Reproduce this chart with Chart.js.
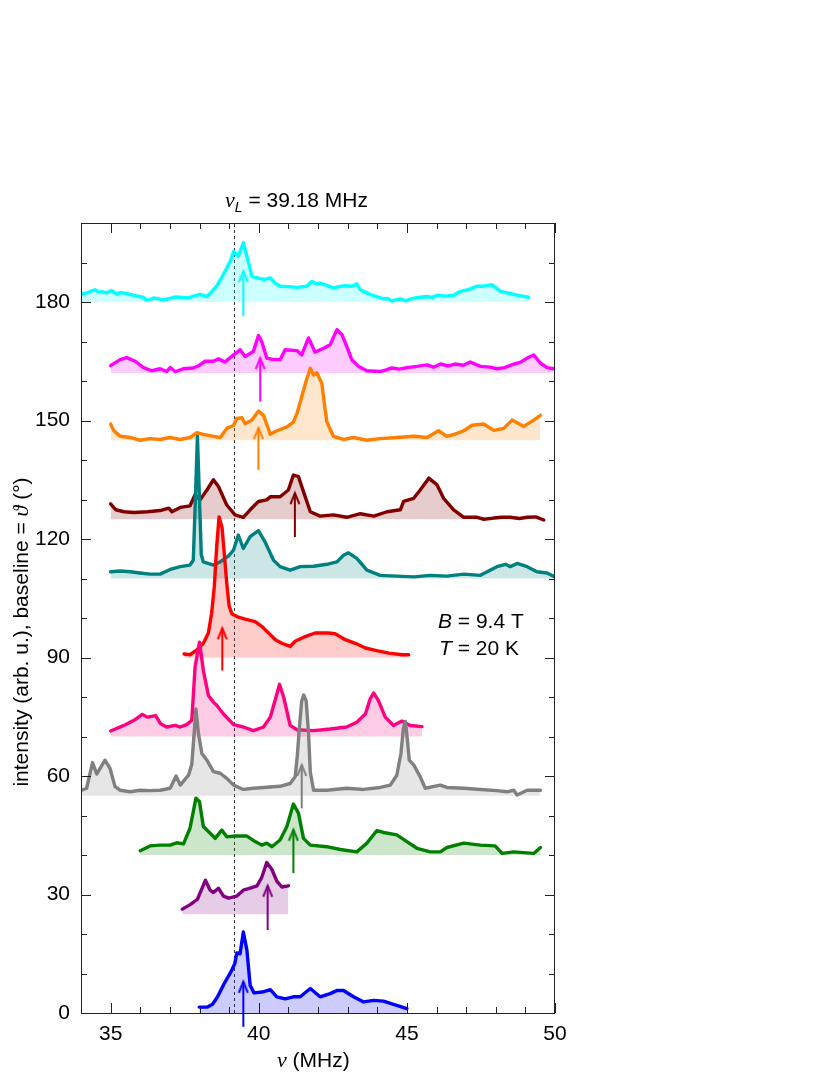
<!DOCTYPE html>
<html>
<head>
<meta charset="utf-8">
<script src="https://cdn.jsdelivr.net/npm/chart.js@4.4.1/dist/chart.umd.min.js"></script>
<style>
  html, body { margin: 0; padding: 0; background: #fff; }
  #wrap { width: 830px; height: 1075px; position: relative; }
</style>
</head>
<body>
<div id="wrap"><canvas id="nmrChart"></canvas></div>
<script>
// spectra: [frequency MHz, intensity above baseline]
const cyanSpec = [[34.02,2.0],[34.2,2.3],[34.47,3.1],[34.6,2.5],[34.7,2.6],[34.85,2.3],[35.04,2.9],[35.2,2.0],[35.32,2.4],[35.5,2.2],[35.66,1.9],[35.9,1.5],[36.1,1.2],[36.2,0.5],[36.33,0.6],[36.45,1.0],[36.55,0.9],[36.78,0.5],[37.0,0.9],[37.2,1.3],[37.35,1.2],[37.6,1.0],[37.8,1.5],[38.02,1.9],[38.25,1.4],[38.4,2.5],[38.58,4.0],[38.75,6.2],[38.92,8.6],[39.05,10.5],[39.15,12.8],[39.31,11.6],[39.48,15.0],[39.6,11.6],[39.77,6.5],[40.05,5.9],[40.2,5.7],[40.39,6.1],[40.55,4.8],[40.72,4.0],[41.0,3.9],[41.29,3.7],[41.62,4.0],[41.79,5.2],[41.95,4.6],[42.07,4.8],[42.3,4.2],[42.52,3.5],[42.7,3.9],[42.92,4.1],[43.15,4.0],[43.31,4.6],[43.43,3.1],[43.6,2.5],[43.76,1.9],[44.0,1.3],[44.21,0.8],[44.35,0.9],[44.49,0.2],[44.65,0.6],[44.78,0.8],[44.95,0.3],[45.2,0.9],[45.45,1.2],[45.7,1.4],[45.85,1.1],[46.02,1.7],[46.3,1.5],[46.58,1.7],[46.81,2.7],[47.1,3.2],[47.37,4.0],[47.59,4.0],[47.87,4.4],[48.16,2.7],[48.4,2.3],[48.61,1.9],[48.9,1.5],[49.11,1.2]];
const magentaSpec = [[35.0,1.9],[35.32,3.4],[35.54,3.9],[35.83,3.0],[36.11,1.4],[36.39,0.6],[36.67,1.1],[36.89,0.4],[37.01,1.4],[37.18,0.4],[37.46,1.1],[37.79,1.3],[38.0,2.0],[38.19,3.0],[38.47,3.0],[38.64,3.6],[38.86,2.8],[39.15,4.6],[39.37,5.9],[39.54,4.2],[39.82,5.5],[39.99,9.5],[40.10,8.0],[40.27,3.8],[40.50,3.4],[40.72,3.4],[40.89,5.9],[41.29,5.7],[41.45,4.6],[41.68,8.9],[41.90,5.3],[42.19,6.3],[42.41,7.2],[42.64,11.0],[42.81,9.7],[42.97,6.8],[43.14,3.4],[43.37,1.7],[43.65,0.6],[44.10,0.4],[44.3,0.8],[44.49,1.3],[44.75,1.0],[45.0,1.4],[45.34,1.7],[45.68,2.1],[45.9,1.5],[46.13,2.3],[46.4,1.8],[46.63,2.3],[46.9,2.0],[47.14,2.8],[47.48,1.7],[47.8,1.5],[48.04,1.1],[48.3,1.4],[48.61,2.3],[48.85,2.8],[49.06,3.8],[49.28,4.6],[49.51,2.5],[49.73,1.4],[49.96,1.1]];
const orangeSpec = [[35.0,4.1],[35.1,2.5],[35.32,1.0],[35.66,0.7],[35.99,0.0],[36.33,0.4],[36.67,0.2],[37.01,0.7],[37.35,0.2],[37.68,0.7],[37.91,1.9],[38.13,1.5],[38.47,1.0],[38.70,0.7],[38.92,3.0],[39.15,3.8],[39.26,5.5],[39.43,5.7],[39.54,4.2],[39.77,5.1],[39.99,7.4],[40.16,6.3],[40.39,1.5],[40.61,2.4],[40.95,3.4],[41.17,4.6],[41.3,7.0],[41.45,11.0],[41.6,15.0],[41.74,18.2],[41.85,16.5],[41.96,17.1],[42.13,14.4],[42.22,9.0],[42.30,4.6],[42.52,1.0],[42.86,0.2],[43.20,0.7],[43.65,0.0],[44.10,0.4],[44.66,0.7],[45.23,1.0],[45.68,0.7],[46.07,2.4],[46.35,1.0],[46.6,1.5],[46.92,2.4],[47.20,3.8],[47.59,4.1],[47.93,2.5],[48.27,3.0],[48.55,5.1],[48.95,3.5],[49.28,5.1],[49.51,6.3]];
const maroonSpec = [[35.0,3.9],[35.17,2.4],[35.45,1.9],[35.79,1.7],[36.24,1.9],[36.67,2.2],[36.96,2.8],[37.07,1.9],[37.35,3.0],[37.68,3.4],[37.85,6.2],[38.02,4.9],[38.25,7.4],[38.47,10.0],[38.64,8.3],[38.92,3.6],[39.20,1.1],[39.48,0.5],[39.71,2.4],[39.99,4.5],[40.27,4.9],[40.39,5.7],[40.72,5.7],[41.00,7.4],[41.17,11.2],[41.34,10.8],[41.51,7.0],[41.74,1.9],[42.07,0.8],[42.52,1.1],[42.97,0.5],[43.43,1.4],[43.88,0.8],[44.33,1.9],[44.78,2.4],[44.89,4.5],[45.23,5.3],[45.45,7.4],[45.74,10.4],[46.02,8.7],[46.24,5.3],[46.58,2.4],[46.92,0.5],[47.37,0.5],[47.6,0.0],[47.93,0.3],[48.2,0.5],[48.49,0.5],[48.8,0.2],[49.06,0.5],[49.35,0.6],[49.62,-0.2]];
const tealSpec = [[35.0,1.7],[35.32,1.9],[35.66,1.7],[35.99,1.4],[36.33,1.1],[36.67,1.1],[37.01,2.3],[37.35,3.0],[37.68,3.4],[37.79,4.6],[37.86,20],[37.93,36],[38.0,20],[38.06,6],[38.13,4.2],[38.47,3.4],[38.70,4.2],[38.98,5.7],[39.15,7.2],[39.31,11.0],[39.48,7.6],[39.71,10.6],[39.99,12.1],[40.21,9.3],[40.50,4.6],[40.72,3.0],[41.06,2.1],[41.40,3.0],[41.85,3.1],[42.30,3.6],[42.64,4.2],[42.86,5.9],[43.03,6.5],[43.31,5.1],[43.65,2.1],[44.10,0.8],[44.66,0.6],[45.23,0.4],[45.79,0.8],[46.35,0.6],[46.92,1.1],[47.48,0.8],[48.04,3.0],[48.33,3.6],[48.49,3.0],[48.72,3.8],[49.06,3.0],[49.39,1.7],[49.73,1.4],[50.0,0.4]];
const redSpec = [[37.48,0.9],[37.68,0.7],[37.91,1.9],[38.13,3.6],[38.30,6.2],[38.41,11.2],[38.50,18],[38.58,28],[38.66,35.6],[38.76,33],[38.84,26],[38.93,18],[39.0,13],[39.1,11.0],[39.31,10.2],[39.54,9.7],[39.88,9.1],[40.10,7.9],[40.33,6.2],[40.56,4.5],[40.78,3.6],[41.06,2.8],[41.23,4.1],[41.57,5.3],[41.90,6.2],[42.35,6.2],[42.58,6.0],[42.92,4.5],[43.26,3.6],[43.60,2.4],[43.94,1.8],[44.39,1.1],[44.84,0.7],[45.06,0.7]];
const pinkSpec = [[35.0,1.4],[35.45,2.8],[35.79,4.1],[36.07,5.6],[36.24,4.9],[36.52,5.3],[36.69,3.2],[36.89,2.4],[37.18,2.8],[37.35,2.4],[37.57,3.0],[37.74,4.1],[37.85,17.6],[38.0,23.9],[38.13,16.7],[38.30,10.4],[38.47,8.7],[38.58,7.9],[38.81,5.7],[39.15,3.0],[39.48,2.4],[39.82,1.5],[40.16,2.4],[40.39,4.9],[40.55,9.1],[40.70,13.2],[40.84,10.0],[41.06,2.8],[41.29,1.7],[41.85,1.5],[42.41,1.9],[42.97,2.4],[43.31,3.6],[43.60,5.7],[43.76,9.5],[43.88,11.0],[44.04,9.1],[44.27,4.9],[44.55,2.8],[44.83,3.9],[45.11,2.8],[45.51,2.5]];
const greySpec = [[34.02,1.4],[34.19,1.9],[34.39,8.4],[34.53,5.5],[34.81,9.0],[34.98,6.9],[35.15,2.3],[35.32,1.4],[35.66,1.0],[35.99,1.4],[36.33,1.3],[36.67,1.4],[37.01,1.9],[37.21,5.0],[37.35,2.7],[37.63,5.2],[37.74,8],[37.82,16],[37.88,22],[37.96,16],[38.08,10.7],[38.25,9.0],[38.47,6.1],[38.70,5.7],[38.92,4.4],[39.15,2.7],[39.48,1.6],[39.82,1.9],[40.16,2.1],[40.72,2.4],[41.06,3.1],[41.23,4.8],[41.3,10],[41.38,18],[41.45,24],[41.52,25.5],[41.6,24],[41.68,16],[41.74,6],[41.85,1.4],[42.30,1.4],[42.97,1.9],[43.54,1.6],[44.10,2.1],[44.44,2.7],[44.66,5.2],[44.8,10.7],[44.88,17],[44.95,18.8],[45.02,14],[45.08,9.0],[45.23,7.8],[45.45,4.8],[45.62,1.9],[46.13,2.7],[46.35,2.1],[46.92,1.9],[47.48,1.6],[48.04,1.3],[48.38,1.0],[48.61,1.4],[48.72,0.2],[49.06,1.4],[49.51,1.4]];
const greenSpec = [[36.0,1.1],[36.33,2.3],[36.67,2.5],[37.01,2.5],[37.23,3.1],[37.46,2.8],[37.68,6.8],[37.88,14.4],[38.0,13.5],[38.13,7.2],[38.36,5.5],[38.53,4.2],[38.75,6.3],[38.92,4.6],[39.20,4.8],[39.60,4.8],[39.88,3.4],[40.10,2.5],[40.27,3.0],[40.44,2.1],[40.72,3.8],[40.95,7.2],[41.17,12.9],[41.34,10.6],[41.51,4.2],[41.74,2.5],[42.30,2.1],[42.75,1.4],[43.31,0.8],[43.65,3.0],[43.99,6.2],[44.21,5.7],[44.66,5.1],[45.00,3.4],[45.34,1.7],[45.79,0.8],[46.13,0.8],[46.35,1.9],[46.92,3.0],[47.48,2.5],[47.98,2.3],[48.21,0.4],[48.61,0.8],[49.28,0.4],[49.51,1.9]];
const purpleSpec = [[37.42,1.3],[37.70,2.5],[37.93,3.8],[38.06,6.1],[38.20,8.6],[38.36,6.1],[38.47,5.5],[38.64,6.6],[38.81,4.6],[38.98,4.1],[39.26,4.6],[39.48,6.1],[39.71,6.6],[39.94,7.2],[40.10,9.3],[40.27,13.1],[40.44,11.4],[40.61,8.4],[40.78,6.9],[41.00,7.2]];
const blueSpec = [[37.99,1.5],[38.27,1.5],[38.44,2.2],[38.61,4.1],[38.83,7.4],[39.06,10.4],[39.19,12.5],[39.26,15.2],[39.37,15.0],[39.48,20.5],[39.60,15.9],[39.71,7.0],[39.84,5.1],[40.12,5.3],[40.39,5.9],[40.61,4.1],[40.89,3.6],[41.17,4.1],[41.40,4.1],[41.74,6.2],[42.07,4.1],[42.41,4.9],[42.64,5.7],[42.86,5.7],[43.20,4.1],[43.54,2.8],[43.88,3.2],[44.21,3.0],[44.55,2.2],[45.00,1.1]];

// baseline = angle theta (deg), bottom trace first
const spectra = [blueSpec, purpleSpec, greenSpec, greySpec, pinkSpec, redSpec, tealSpec, maroonSpec, orangeSpec, magentaSpec, cyanSpec];
const baselines = [0, 25, 40, 55, 70, 90, 110, 125, 145, 162, 180];
const colors = ["#0000ff", "#800080", "#008000", "#808080", "#ff0080", "#ff0000", "#008080", "#800000", "#ff8000", "#ff00ff", "#00ffff"];

// arrows: frequency, bottom, tip
const arrowFreq = [39.48, 40.30, 41.17, 41.45, 38.77, 41.22, 39.99, 40.05, 39.48];
const arrowLow  = [-3.5, 21.0, 35.4, 51.8, 86.7, 120.5, 137.5, 154.8, 176.4];
const arrowHigh = [7.9, 32.2, 46.4, 62.8, 97.4, 131.6, 148.1, 165.8, 187.8];
const arrowColors = ["#0000ff", "#800080", "#008000", "#808080", "#ff0000", "#800000", "#ff8000", "#ff00ff", "#00ffff"];

const larmorFreq = 39.18;
const xTickLabels = [35, 40, 45, 50];
const yTickLabels = [0, 30, 60, 90, 120, 150, 180];

const FONT = "'Liberation Sans', Arial, sans-serif";
const SERIF = "'Liberation Serif', 'Times New Roman', serif";

function makeHead(color){
    const c = document.createElement("canvas");
    c.width = 12;
    c.height = 26;
    const g = c.getContext("2d");
    g.strokeStyle = color;
    g.lineWidth = 2;
    g.beginPath();
    g.moveTo(1.5, 24);
    g.lineTo(6, 13);
    g.lineTo(10.5, 24);
    g.stroke();
    return c;
}

const datasets = [];

// arrows on top
arrowFreq.forEach((f, i) => {
    datasets.push({
        data: [{x: f, y: arrowLow[i]}, {x: f, y: arrowHigh[i]}],
        borderColor: arrowColors[i],
        borderWidth: 2,
        pointRadius: [0, 6],
        pointStyle: makeHead(arrowColors[i]),
        fill: false,
        clip: false
    });
});

spectra.forEach((spec, i) => {
    datasets.push({
        data: spec.map(p => ({x: p[0], y: baselines[i] + p[1]})),
        borderColor: colors[i],
        backgroundColor: colors[i] + "33",
        fill: {value: baselines[i]},
        borderWidth: 3.4,
        borderJoinStyle: "round",
        borderCapStyle: "round",
        pointRadius: 0,
        tension: 0
    });
});

// Larmor frequency marker
datasets.push({
    data: [{x: larmorFreq, y: 0}, {x: larmorFreq, y: 200}],
    borderColor: "#333",
    borderWidth: 1,
    borderDash: [3, 3],
    pointRadius: 0,
    fill: false
});

const framePlugin = {
    id: "frame",
    afterDraw(chart){
        const {ctx, chartArea: {left, right, top, bottom}, scales: {x, y}} = chart;
        ctx.save();
        ctx.strokeStyle = "#222";
        ctx.lineWidth = 1;
        ctx.strokeRect(left + 0.5, top + 0.5, right - left - 1, bottom - top);
        ctx.beginPath();
        x.ticks.forEach(t => {
            const px = Math.round(x.getPixelForValue(t.value)) + 0.5;
            const len = t.value % 5 === 0 ? 10 : 6;
            ctx.moveTo(px, bottom); ctx.lineTo(px, bottom - len);
            ctx.moveTo(px, top); ctx.lineTo(px, top + len);
        });
        y.ticks.forEach(t => {
            const py = Math.round(y.getPixelForValue(t.value)) + 0.5;
            const len = t.value % 30 === 0 ? 10 : 6;
            ctx.moveTo(left, py); ctx.lineTo(left + len, py);
            ctx.moveTo(right, py); ctx.lineTo(right - len, py);
        });
        ctx.stroke();
        ctx.restore();
    }
};

function drawRun(ctx, parts, x, yb){
    let cx = x;
    parts.forEach(p => {
        ctx.font = p.font;
        ctx.fillText(p.text, cx, yb + (p.dy || 0));
        cx += ctx.measureText(p.text).width;
    });
}

const textPlugin = {
    id: "texts",
    afterDraw(chart){
        const ctx = chart.ctx;
        ctx.save();
        ctx.fillStyle = "#000";
        ctx.textBaseline = "alphabetic";
        ctx.textAlign = "left";

        // nu_L label
        drawRun(ctx, [
            {text: "\u03bd", font: "italic 22px " + SERIF},
            {text: "L", font: "italic 14px " + FONT, dy: 5},
            {text: " = 39.18 MHz", font: "21px " + FONT}
        ], 225, 207);

        // field / temperature
        drawRun(ctx, [{text: "B", font: "italic 21px " + FONT}, {text: " = 9.4 T", font: "21px " + FONT}], 438, 628);
        drawRun(ctx, [{text: "T", font: "italic 21px " + FONT}, {text: " = 20 K", font: "21px " + FONT}], 439, 655);

        // x title
        drawRun(ctx, [{text: "\u03bd", font: "italic 22px " + SERIF}, {text: " (MHz)", font: "21px " + FONT}], 277, 1067);

        // y title
        const parts = [
            {text: "intensity (arb. u.), baseline = ", font: "21px " + FONT},
            {text: "\u03d1", font: "italic 22px " + SERIF},
            {text: " (\u00b0)", font: "21px " + FONT}
        ];
        let total = 0;
        parts.forEach(p => { ctx.font = p.font; total += ctx.measureText(p.text).width; });
        ctx.translate(28, 632);
        ctx.rotate(-Math.PI / 2);
        drawRun(ctx, parts, -total / 2, 0);
        ctx.restore();
    }
};

new Chart(document.getElementById("nmrChart"), {
    type: "line",
    data: {datasets: datasets},
    options: {
        responsive: true,
        maintainAspectRatio: false,
        animation: false,
        layout: {padding: {top: 223, right: 275, bottom: 0, left: 0}},
        plugins: {
            legend: {display: false},
            tooltip: {enabled: false}
        },
        scales: {
            x: {
                type: "linear",
                min: 34,
                max: 50,
                grid: {display: false, drawTicks: false},
                border: {display: false},
                afterFit: (scale) => { scale.height = 62; },
                ticks: {
                    stepSize: 1,
                    padding: 9,
                    color: "#000",
                    font: {family: FONT, size: 21},
                    maxRotation: 0,
                    autoSkip: false,
                    callback: (v) => xTickLabels.includes(v) ? String(v) : ""
                }
            },
            y: {
                type: "linear",
                min: 0,
                max: 200,
                grid: {display: false, drawTicks: false},
                border: {display: false},
                afterFit: (scale) => { scale.width = 81; },
                ticks: {
                    stepSize: 10,
                    padding: 11,
                    color: "#000",
                    font: {family: FONT, size: 21},
                    autoSkip: false,
                    callback: (v) => yTickLabels.includes(v) ? String(v) : ""
                }
            }
        }
    },
    plugins: [framePlugin, textPlugin]
});
</script>
</body>
</html>
